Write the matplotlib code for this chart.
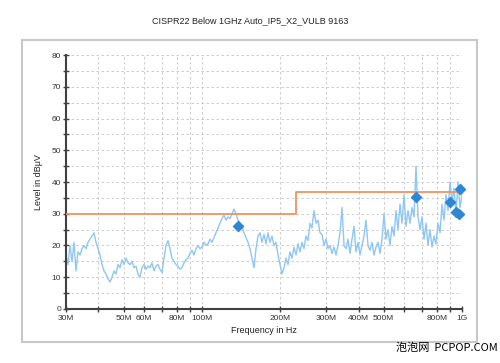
import matplotlib
matplotlib.use('Agg')
import matplotlib.pyplot as plt
import matplotlib.ticker as mticker
from matplotlib.patches import Rectangle
import numpy as np

plt.rcParams['font.family'] = ['Liberation Sans', 'DejaVu Sans']

levels = [
    17, 14, 20, 15, 21, 12, 18, 17, 19, 20, 19, 21, 22, 23, 24, 21,
    19, 17, 14, 12, 11, 9.5, 8.5, 10, 12, 11, 14, 13, 15.5, 14, 16, 14.5,
    14, 15, 13, 13.5, 11, 10, 13, 14, 12.5, 13.5, 13, 14.5, 12, 13.5, 14, 12.5,
    11.5, 16, 20, 21.5, 19, 16, 15, 14, 13.5, 12.5, 13, 14.5, 15.5, 16, 17.5, 18.5,
    17, 19, 20, 19, 19.5, 21, 20, 20.5, 22, 21, 22.5, 24, 25.5, 27, 28.5, 29.5,
    28, 29, 28.5, 30, 31.5, 30, 28, 27, 26, 24, 22.5, 21, 19, 16, 13, 19,
    23, 24, 21, 23.5, 20.5, 24, 21, 23, 20, 21, 17, 14, 11, 13, 16, 14,
    18, 16, 19.5, 17, 20.5, 18, 21, 19, 23, 21.5, 27, 25.5, 31, 27, 28, 24,
    23.5, 20, 22, 19, 20, 17.5, 19.5, 17, 20, 24, 32, 20, 19, 22, 17.5, 22,
    26, 18, 21, 17, 20, 23, 28, 20, 18.5, 21, 17, 19.5, 21, 17.5, 22, 30,
    22, 25, 20, 26, 23, 31, 25, 33, 27, 36, 26, 31, 27, 32, 29, 45,
    29, 25, 29, 22, 27, 20, 25, 19.5, 23, 20.5, 27, 24, 33, 28, 36, 31,
    40, 34, 38, 30, 40, 32, 36,
]
freq_mhz = np.geomspace(30, 1000, len(levels))

# limit line (dBuV)
limit_freq = [30, 230, 230, 1000]
limit_level = [30, 30, 37, 37]

# final measurement points
peak_freq = [137, 663, 900, 947, 975, 980]
peak_level = [26.1, 35.2, 33.6, 30.6, 29.9, 37.8]

tick_freq = [30, 40, 50, 60, 70, 80, 90, 100, 200, 300, 400, 500, 600, 700, 800, 900, 1000]
tick_text = ['30M', '', '50M', '60M', '', '80M', '', '100M', '200M', '300M', '400M',
             '500M', '', '', '800M', '', '1G']

fig = plt.figure(figsize=(5, 3.63), dpi=100, facecolor='white')
ax = fig.add_axes([0.132, 0.149, 0.792, 0.699])

# outer light frame
fig.patches.append(Rectangle((22 / 500, 1 - 342 / 363), 455 / 500, 302 / 363,
                             transform=fig.transFigure, fill=False,
                             edgecolor='#c8c8c8', linewidth=1.5))

ax.plot(freq_mhz, levels, color='#8fc6f4', linewidth=1.0, zorder=2)
ax.plot(limit_freq, limit_level, color='#f09460', linewidth=1.3, zorder=3)
ax.scatter(peak_freq, peak_level, marker='D', s=26, color='#2f86d4', zorder=4,
           clip_on=False)

ax.set_xscale('log')
ax.set_xlim(30, 1000)
ax.set_ylim(0, 80)
ax.xaxis.set_major_locator(mticker.FixedLocator(tick_freq))
ax.xaxis.set_major_formatter(mticker.FixedFormatter(tick_text))
ax.xaxis.set_minor_locator(mticker.NullLocator())
ax.yaxis.set_major_locator(mticker.MultipleLocator(10))
ax.yaxis.set_minor_locator(mticker.MultipleLocator(5))

ax.grid(True, which='both', linestyle=(0, (3, 3)), color='#c4c4c4', linewidth=0.6)
ax.set_axisbelow(True)

for side in ['top', 'right']:
    ax.spines[side].set_visible(False)
for side in ['left', 'bottom']:
    ax.spines[side].set_color('#404040')
    ax.spines[side].set_linewidth(1.5)

ax.tick_params(axis='both', which='both', direction='inout', color='#404040',
               labelsize=6, labelcolor='#333333', width=1)
ax.tick_params(axis='both', which='major', length=5)
ax.tick_params(axis='y', which='minor', length=4)
ax.tick_params(axis='x', pad=2)
ax.tick_params(axis='y', pad=1)

ax.set_xlabel('Frequency in Hz', fontsize=6.5, color='#222222', labelpad=3)
ax.set_ylabel('Level in dBμV', fontsize=6.5, color='#222222', labelpad=6)

fig.text(0.5, 1 - 21 / 363, 'CISPR22 Below 1GHz Auto_IP5_X2_VULB 9163',
         ha='center', va='center', fontsize=6.5, color='#222222')
fig.text(0.995, 1 - 348 / 363, '泡泡网  PCPOP.COM', ha='right', va='center',
         fontsize=8, color='black', family=['Noto Sans CJK SC', 'DejaVu Sans'])

fig.savefig('out.png', dpi=100, facecolor='white')
